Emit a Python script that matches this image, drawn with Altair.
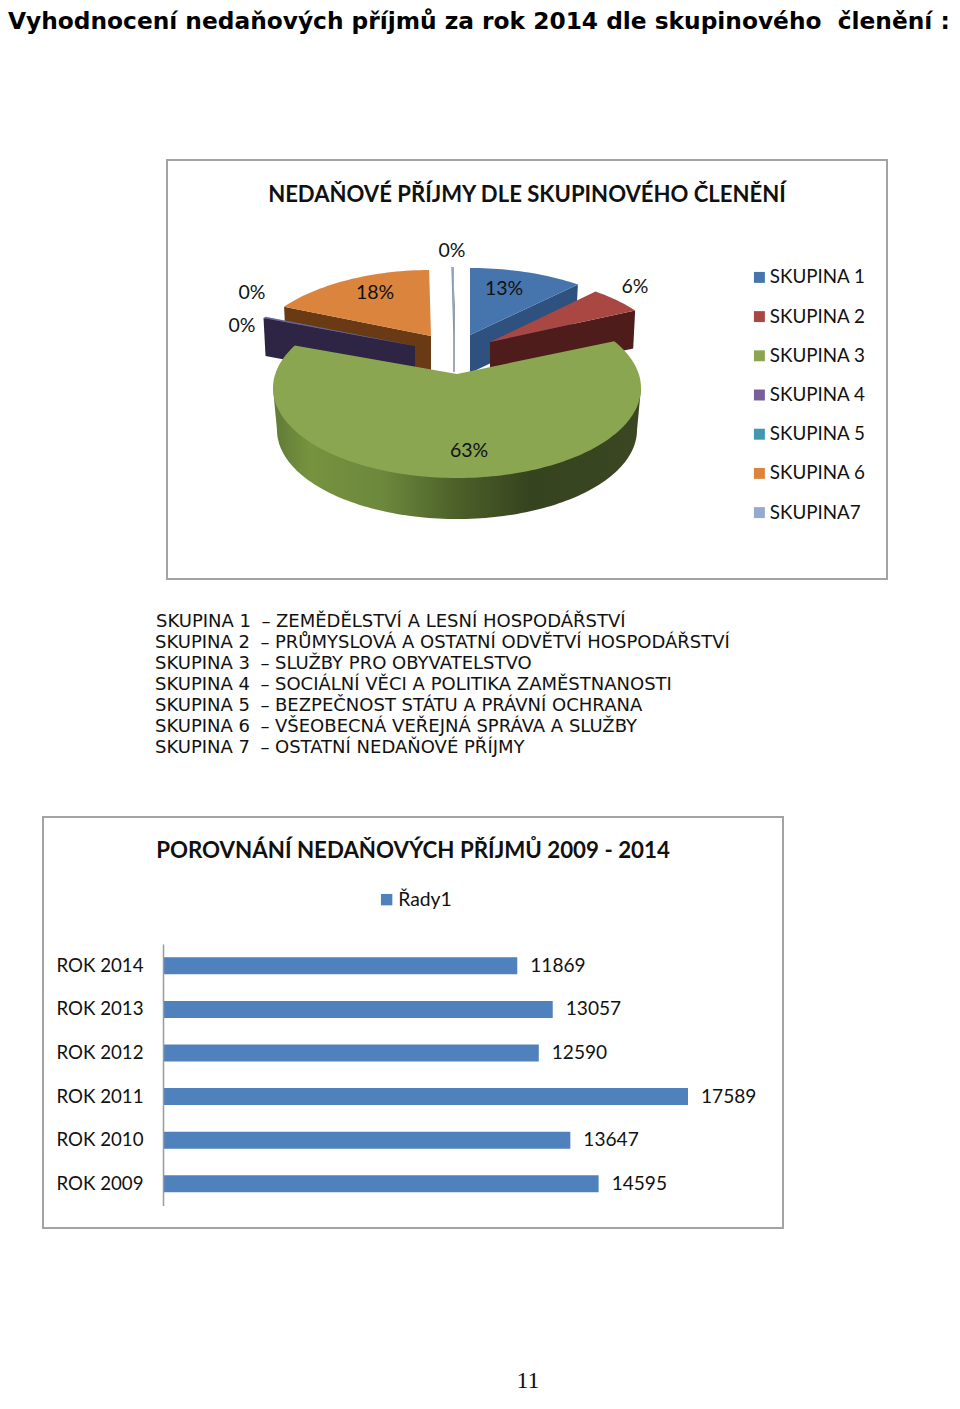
import math
import altair as alt

GROUPS = ["SKUPINA 1", "SKUPINA 2", "SKUPINA 3", "SKUPINA 4", "SKUPINA 5", "SKUPINA 6", "SKUPINA7"]
SHARES = [13.0, 6.0, 63.0, 0.2, 0.05, 17.5, 0.25]
TOP_COLORS = ["#4675ae", "#a94743", "#8aa650", "#7a5f9a", "#4198af", "#db843d", "#93a9cf"]
WALL_COLORS = ["#2f5180", "#4f1c1c", "#6d8a40", "#2e2444", "#2c6a7a", "#6a3a14", "#7f8fa3"]

DEFINITIONS = [
    ("SKUPINA 1", "ZEMĚDĚLSTVÍ A LESNÍ HOSPODÁŘSTVÍ"),
    ("SKUPINA 2", "PRŮMYSLOVÁ A OSTATNÍ ODVĚTVÍ HOSPODÁŘSTVÍ"),
    ("SKUPINA 3", "SLUŽBY PRO OBYVATELSTVO"),
    ("SKUPINA 4", "SOCIÁLNÍ VĚCI A POLITIKA ZAMĚSTNANOSTI"),
    ("SKUPINA 5", "BEZPEČNOST STÁTU A PRÁVNÍ OCHRANA"),
    ("SKUPINA 6", "VŠEOBECNÁ VEŘEJNÁ SPRÁVA A SLUŽBY"),
    ("SKUPINA 7", "OSTATNÍ NEDAŇOVÉ PŘÍJMY"),
]

YEARS = ["ROK 2014", "ROK 2013", "ROK 2012", "ROK 2011", "ROK 2010", "ROK 2009"]
REVENUE = [11869, 13057, 12590, 17589, 13647, 14595]

OFF = 8
CALIBRI = "Lato"
VERDANA = "DejaVu Sans"

# exploded 3-D pie geometry, per slice: apex x, apex y, ellipse centre y, rx, ry, perspective at start/end
GEOM = {
    0: (470, 335, 355, 184, 87, .68, .68),
    1: (490, 342, 362, 180, 87, .68, .54),
    2: (457, 374, 388, 184, 90, .65, .88),
    3: (415, 346, 369, 187, 87, .65, .65),
    4: (415, 346, 369, 187, 87, .65, .65),
    5: (431, 336, 362, 184, 92, .65, .65),
    6: (454, 334, 354, 184, 87, .65, .65),
}
DEPTH = 38


def ang(theta, k):
    t = math.atan2(k * math.sin(theta), math.cos(theta))
    return t + 2 * math.pi if t < -1e-9 else t


def rim(i, t):
    ax, ay, cy, rx, ry, _, _ = GEOM[i]
    return (ax + rx * math.sin(t) - OFF, cy - ry * math.cos(t) - OFF)


cum = [0.0]
for s in SHARES:
    cum.append(cum[-1] + s)


def edges(i):
    k0, k1 = GEOM[i][5], GEOM[i][6]
    t0 = ang(cum[i] / 100 * 2 * math.pi, k0)
    end = cum[i + 1] / 100 * 2 * math.pi
    t1 = ang(end, k1) if cum[i + 1] < 99.9999 else 2 * math.pi
    return t0, t1


def feature(points, group=None):
    pts = [list(p) for p in points]
    pts.append(pts[0])
    return {"type": "Feature", "properties": {"group": group},
            "geometry": {"type": "Polygon", "coordinates": [pts]}}


def top_poly(i):
    ax, ay = GEOM[i][0] - OFF, GEOM[i][1] - OFF
    t0, t1 = edges(i)
    n = max(2, int((t1 - t0) * 40))
    return [(ax, ay)] + [rim(i, t0 + (t1 - t0) * j / n) for j in range(n + 1)]


def cut_wall(i, side):
    ax, ay = GEOM[i][0] - OFF, GEOM[i][1] - OFF
    t = edges(i)[side]
    x, y = rim(i, t)
    return [(ax, ay), (x, y), (x - 2 * math.copysign(1, x - ax), y + DEPTH), (ax, ay + DEPTH)]


def outer_wall(i):
    ax, ay, cy, rx, ry, _, _ = GEOM[i]
    cy2, rx2, ry2 = cy + 42, rx - 4, ry - 1
    pts = [rim(i, math.pi / 2)]
    pts += [(ax + rx2 * math.sin(math.pi * (0.5 + j / 120)) - OFF,
             cy2 - ry2 * math.cos(math.pi * (0.5 + j / 120)) - OFF) for j in range(121)]
    pts += [rim(i, 3 * math.pi / 2)]
    return pts


PROJ = alt.Projection(type="identity", scale=1, translate=[0, 0])


def shape(features, **mark):
    return alt.Chart(alt.Data(values=features)).mark_geoshape(strokeWidth=0, **mark).project(**PROJ.to_dict())


color_scale = alt.Scale(domain=GROUPS, range=TOP_COLORS)
legend_pie = alt.Legend(title=None, orient="none", legendX=754 - OFF - 4, legendY=260,
                        symbolType="square", symbolSize=120, symbolStrokeWidth=0,
                        labelFont=CALIBRI, labelFontSize=18.8, labelColor="#111111",
                        labelOffset=1, rowPadding=19.2, labelLimit=200, values=GROUPS)


def top_layer(i):
    return shape([feature(top_poly(i), GROUPS[i])]).encode(
        color=alt.Color("properties.group:N", scale=color_scale, legend=legend_pie))


green_grad = alt.LinearGradient(
    gradient="linear", x1=0, x2=1, y1=0, y2=0,
    stops=[alt.GradientStop(color="#5f7b36", offset=0), alt.GradientStop(color="#76933f", offset=.1),
           alt.GradientStop(color="#6c883c", offset=.3), alt.GradientStop(color="#4c6029", offset=.5),
           alt.GradientStop(color="#36431f", offset=.7), alt.GradientStop(color="#3a4722", offset=1)])

pie = []
for i, side in [(0, 1), (1, 1), (5, 0), (4, 0), (3, 0)]:
    pie.append(shape([feature(cut_wall(i, side))], fill=WALL_COLORS[i]))
    pie.append(top_layer(i))
pie.append(alt.Chart(alt.Data(values=[feature(cut_wall(6, 0))])).mark_geoshape(
    fill=WALL_COLORS[6], stroke=WALL_COLORS[6], strokeWidth=1.5).project(**PROJ.to_dict()))
pie.append(top_layer(6))
pie.append(shape([feature(outer_wall(2))], fill=green_grad))
pie.append(top_layer(2))
pie_chart = alt.layer(*pie)


def txt(s, x, y, size=20, font=CALIBRI, weight="normal", align="left", color="#111111"):
    return alt.Chart(alt.Data(values=[{"a": 1}])).mark_text(
        font=font, fontSize=size, fontWeight=weight, align=align, baseline="middle", color=color
    ).encode(x=alt.value(x - OFF), y=alt.value(y - OFF), text=alt.value(s))


def frame(x0, y0, x1, y1):
    return alt.Chart(alt.Data(values=[{"a": 1}])).mark_rect(
        fill="white", stroke="#a3a3a3", strokeWidth=2
    ).encode(x=alt.value(x0 - OFF), x2=alt.value(x1 - OFF), y=alt.value(y0 - OFF), y2=alt.value(y1 - OFF))


pct = [f"{round(s)}%" for s in SHARES]
pct_at = [(504, 289), (635, 287), (469, 451), (252, 293), (242, 326), (375, 293), (452, 251)]

decor = [frame(167, 160, 887, 579), frame(43, 817, 783, 1228)]
texts = [txt("Vyhodnocení nedaňových příjmů za rok 2014 dle skupinového\u00a0 členění :", 8, 22, 23.3, VERDANA, "bold", color="#000000"),
         txt("NEDAŇOVÉ PŘÍJMY DLE SKUPINOVÉHO ČLENĚNÍ", 527, 194.5, 22.1, CALIBRI, "bold", "center"),
         txt("POROVNÁNÍ NEDAŇOVÝCH PŘÍJMŮ 2009 - 2014", 413, 851, 22.3, CALIBRI, "bold", "center"),
         txt("11", 528, 1381, 24, "Liberation Serif", align="center")]
for s, (x, y) in zip(pct, pct_at):
    texts.append(txt(s, x, y, 19.5, align="center"))
for n, (a, b) in enumerate(DEFINITIONS):
    y = 621.5 + 21 * n
    dx = 1 if n == 0 else 0
    texts.append(txt(a, 155 + dx, y, 18, VERDANA))
    texts.append(txt("–", 265 + dx, y, 18, VERDANA, align="center"))
    texts.append(txt(b, 275 + dx, y, 18, VERDANA))

x_scale = alt.Scale(domain=[0, 17589], range=[163 - OFF, 688 - OFF], nice=False, zero=True)
y_scale = alt.Scale(domain=YEARS, range=[944 - OFF, 1205.6 - OFF], paddingInner=.61, paddingOuter=.305)
bar_data = alt.Data(values=[{"rok": r, "v": v, "serie": "Řady1"} for r, v in zip(YEARS, REVENUE)])

bars = alt.Chart(bar_data).mark_bar(cornerRadius=0).encode(
    x=alt.X("v:Q", scale=x_scale, axis=None),
    y=alt.Y("rok:N", scale=y_scale, sort=YEARS,
            axis=alt.Axis(title=None, offset=-(163 - OFF), ticks=False, domainColor="#9a9a9a", domainWidth=1.5,
                          labelFont=CALIBRI, labelFontSize=18.7, labelColor="#111111", labelPadding=20,
                          labelLimit=200, grid=False, zindex=1)),
    color=alt.Color("serie:N", scale=alt.Scale(domain=["Řady1"], range=["#4f81bd"]),
                    legend=alt.Legend(title=None, orient="none", legendX=381 - OFF - 4, legendY=890 - OFF,
                                      symbolType="square", symbolSize=130, symbolStrokeWidth=0,
                                      labelFont=CALIBRI, labelFontSize=19.3, labelColor="#111111", labelOffset=2)),
)
bar_labels = alt.Chart(bar_data).mark_text(
    font=CALIBRI, fontSize=19.1, align="left", baseline="middle", dx=13, color="#111111"
).encode(
    x=alt.X("v:Q", scale=x_scale, axis=None),
    y=alt.Y("rok:N", scale=y_scale, sort=YEARS),
    text="v:Q",
)
bar_chart = alt.layer(bars, bar_labels)

chart = alt.layer(*decor, pie_chart, bar_chart, *texts).resolve_scale(color="independent").properties(
    width=944, height=1386, padding=0, background="white",
    autosize=alt.AutoSizeParams(type="none"),
).configure_view(strokeWidth=0)

chart.save("out.html", embed_options={"renderer": "svg", "actions": False})
